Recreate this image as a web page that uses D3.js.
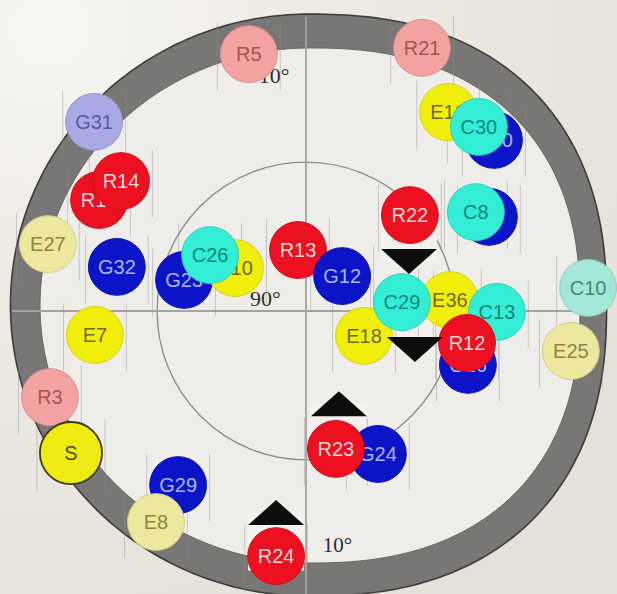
<!DOCTYPE html>
<html><head><meta charset="utf-8">
<script src="https://cdn.jsdelivr.net/npm/d3@7"></script>
<style>html,body{margin:0;padding:0;background:#ebe8e2;overflow:hidden}</style>
</head><body><svg id="c" width="617" height="594"></svg>
<script>
// ---- data (chart units; centre of the cross = 0,0) ----
const labels = ["R5","R21","G31","R15","R14","E27","G32","G23","E10","C26","R13","G12","R22","G8","C8","E16","G30","C30","C10","E36","E18","C29","C13","G16","R12","E25","E7","R3","S","G29","E8","R24","G24","R23"];
const xVals  = [-19.3,39.2,-71.6,-69.9,-62.5,-87.2,-63.9,-41.2,-24.0,-32.4,-2.7,12.2,35.1,61.8,57.4,48.0,63.5,58.4,95.3,48.6,19.6,32.4,64.5,54.7,54.4,89.5,-71.3,-86.5,-79.4,-43.2,-50.7,-10.1,24.3,10.1];
const yVals  = [86.8,88.9,63.9,37.5,43.9,22.6,14.9,10.5,14.5,18.9,20.6,11.8,32.4,31.8,33.4,67.2,57.8,62.2,7.8,3.7,-8.4,3.0,-0.3,-18.2,-10.8,-13.5,-8.1,-29.1,-48.0,-58.8,-71.3,-82.8,-48.3,-46.6];
const kinds  = ["pink","pink","lav","red","red","paleYellow","blue","blue","yellow","cyan","red","blue","red","blue","cyan","yellow","blue","cyan","paleCyan","yellow","yellow","cyan","cyan","blue","red","paleYellow","yellow","pink","sun","blue","paleYellow","red","blue","red"];

const triX   = [34.8, 36.8, 11.1, -10.1];
const triY   = [16.7, -13.0, -31.3, -68.1];
const triDir = ["down","down","up","up"];

const degreeLabels = ["10°","90°","10°"];
const innerRingValue = 50.3;

// ---- layout ----
const W = 617, H = 594;
const cx = 306, cy = 311, pxPerUnit = 2.96;
const x = d3.scaleLinear().domain([-100,100]).range([cx-100*pxPerUnit, cx+100*pxPerUnit]);
const y = d3.scaleLinear().domain([-100,100]).range([cy+100*pxPerUnit, cy-100*pxPerUnit]);
const len = v => x(v) - x(0);

const svg = d3.select("#c");
const defs = svg.append("defs");
const bg = defs.append("radialGradient").attr("id","bg").attr("cx","0.08").attr("cy","0.05").attr("r","1.1");
bg.append("stop").attr("offset","0").attr("stop-color","#f8f7f3");
bg.append("stop").attr("offset","0.35").attr("stop-color","#eeebe5");
bg.append("stop").attr("offset","1").attr("stop-color","#e4e1db");
svg.append("rect").attr("width",W).attr("height",H).attr("fill","url(#bg)");

// ring: ellipse on the left, slightly squarer on the right (photo perspective)
function ringPts(c0x,c0y,a,b){
  const pts=[];
  for(let i=0;i<=360;i++){
    const t=i/360*2*Math.PI, ct=Math.cos(t), st=Math.sin(t);
    const n = ct>0 ? 2.35 : 2.0;
    pts.push([x(c0x + a*Math.sign(ct)*Math.pow(Math.abs(ct),2/n)), y(c0y + b*Math.sign(st)*Math.pow(Math.abs(st),2/n))]);
  }
  return pts;
}
const line = d3.line();
const outer = ringPts(0.85, 2.0, 100.7, 98.3);
const inner = ringPts(1.35, 1.86, 91.2, 87.0);
svg.append("path").attr("d", line(inner)+"Z").attr("fill","#efede9");
svg.append("path").attr("d", line(outer)+"Z"+line(inner)+"Z").attr("fill","#787775").attr("fill-rule","evenodd");
svg.append("path").attr("d", line(outer)+"Z").attr("fill","none").attr("stroke","#3c3c3a").attr("stroke-width",1.6);
svg.append("path").attr("d", line(inner)+"Z").attr("fill","none").attr("stroke","#666664").attr("stroke-width",1);

// inner circle
svg.append("circle").attr("cx",x(0)).attr("cy",y(0)).attr("r",len(innerRingValue))
  .attr("fill","none").attr("stroke","#8a8a88").attr("stroke-width",1.3);

// cross lines
svg.append("line").attr("x1",x(0)).attr("x2",x(0)).attr("y1",y(99.3)).attr("y2",y(-96.5))
  .attr("stroke","#a2a2a0").attr("stroke-width",1.8);
svg.append("line").attr("x1",x(-99.3)).attr("x2",x(101.4)).attr("y1",y(0)).attr("y2",y(0))
  .attr("stroke","#a2a2a0").attr("stroke-width",1.8);

// light boxes behind triangles
const triW = 56, triH = 25;
triDir.forEach((d,i)=>{
  const tx = x(triX[i]), ty = y(triY[i]);
  if(d==="up") svg.append("rect").attr("x",tx-triW/2).attr("y",ty).attr("width",triW).attr("height",58).attr("fill","#f3f2ee");
  else svg.append("rect").attr("x",tx-triW/2).attr("y",ty-45).attr("width",triW).attr("height",45).attr("fill","#f3f2ee");
});

// top degree label (behind R5)
const degFont = "'Liberation Serif','DejaVu Serif',serif";
svg.append("text").attr("x",x(-16.0)).attr("y",y(77.0)).text(degreeLabels[0])
  .attr("font-family",degFont).attr("font-size",22).attr("fill","#2c2c2c");

const styles = {
  red:        {fill:"#ec1020", text:"#ffd6d6"},
  pink:       {fill:"#f3a2a2", text:"#a95252"},
  blue:       {fill:"#0c14c8", text:"#a8b6ff"},
  lav:        {fill:"#a9aae4", text:"#5858a8"},
  cyan:       {fill:"#33eed5", text:"#14877f"},
  paleCyan:   {fill:"#a3e7d8", text:"#3e8a7c"},
  yellow:     {fill:"#f1ee0c", text:"#6e6c12"},
  paleYellow: {fill:"#ece89e", text:"#8a8648"},
  sun:        {fill:"#eeea12", text:"#4e4c10"}
};

const data = labels.map((l,i)=>({label:l, x:xVals[i], y:yVals[i], kind:kinds[i]}));
const rOf = d => d.kind==="sun" ? len(10.5) : len(9.6);

// faint vertical ticks
const ticks = svg.append("g").attr("stroke","#8e8e8c").attr("stroke-width",1).attr("opacity",0.4);
data.forEach(d=>{
  const r=rOf(d), px=x(d.x), py=y(d.y);
  [-1,1].forEach(s=>ticks.append("line").attr("x1",px+s*(r+3)).attr("x2",px+s*(r+3)).attr("y1",py-r-3).attr("y2",py+r+8));
});

const g = svg.append("g");
const m = g.selectAll("g.m").data(data).join("g").attr("class","m")
  .attr("transform",d=>`translate(${x(d.x)},${y(d.y)})`);
m.append("circle").attr("r",rOf)
  .attr("fill",d=>styles[d.kind].fill)
  .attr("stroke",d=>d.kind==="sun" ? "#3e3c14" : d3.color(styles[d.kind].fill).darker(0.35))
  .attr("stroke-width",d=>d.kind==="sun"?1.8:1);
m.append("text").text(d=>d.label)
  .attr("text-anchor","middle").attr("dy","0.36em")
  .attr("font-family","'Liberation Sans',Arial,sans-serif").attr("font-size",20)
  .attr("fill",d=>styles[d.kind].text);

// triangles
const tri = d3.line();
triDir.forEach((d,i)=>{
  const tx=x(triX[i]), ty=y(triY[i]);
  const pts = d==="down"
    ? [[tx-triW/2,ty-triH/2],[tx+triW/2,ty-triH/2],[tx,ty+triH/2]]
    : [[tx-triW/2,ty+triH/2],[tx+triW/2,ty+triH/2],[tx,ty-triH/2]];
  svg.append("path").attr("d",tri(pts)+"Z").attr("fill","#0d0d0d");
});

// other degree labels
svg.append("text").attr("x",x(-18.9)).attr("y",y(1.7)).text(degreeLabels[1])
  .attr("font-family",degFont).attr("font-size",22).attr("fill","#2c2c2c");
svg.append("text").attr("x",x(5.7)).attr("y",y(-81.4)).text(degreeLabels[2])
  .attr("font-family",degFont).attr("font-size",21).attr("fill","#2c2c2c");
</script></body></html>
